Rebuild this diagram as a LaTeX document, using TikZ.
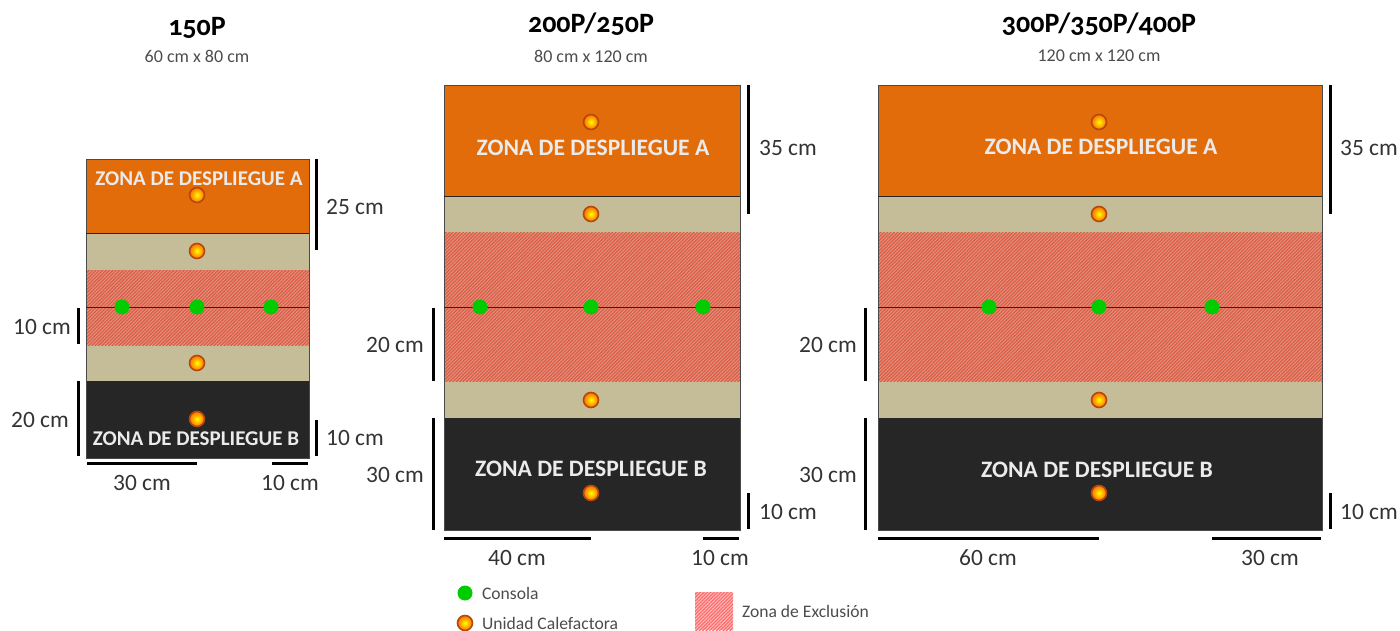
\documentclass[tikz,border=0pt]{standalone}
\usepackage{fontspec}
\setmainfont{Carlito}
\newfontfamily\titlefont[Numbers=OldStyle]{Carlito}
\usetikzlibrary{patterns.meta}
\definecolor{zoneorange}{HTML}{E36C0A}
\definecolor{zonetan}{HTML}{C4BD97}
\definecolor{zoneblack}{HTML}{262626}
\definecolor{hatchred}{HTML}{DE5A45}
\definecolor{hatchbase}{HTML}{E0947E}
\definecolor{hatchpink}{HTML}{FF6A6A}
\definecolor{consolegreen}{HTML}{00CC00}
\definecolor{edgegray}{HTML}{4A4A4A}
\definecolor{heaterring}{HTML}{B5470F}

\begin{document}
\begin{tikzpicture}[x=1pt,y=-1pt,
    dimbar/.style={line width=3pt,black},
    dimtext/.style={text=black!80,font=\fontsize{23.4}{26}\selectfont},
    sizetext/.style={text=black!70,font=\fontsize{18}{20}\selectfont},
    titletext/.style={font=\fontsize{28}{30}\selectfont\titlefont\bfseries},
    zonetext/.style={text=white!92!black,font=\fontsize{23.6}{26}\selectfont\bfseries},
    smallzone/.style={text=white!92!black,font=\fontsize{21}{24}\selectfont\bfseries},
    legendtext/.style={anchor=west,text=black!70,font=\fontsize{17.6}{20}\selectfont},
    console/.style={circle,fill=consolegreen,minimum size=15pt,inner sep=0pt},
    heater/.style={circle,draw=heaterring,line width=1.6pt,inner color=yellow,outer color=orange!85!red,minimum size=15pt,inner sep=0pt},
    hatched/.style={preaction={fill=hatchbase},pattern={Lines[angle=45,distance=2.4pt,line width=1.2pt]},pattern color=hatchred},
    hatchkey/.style={preaction={fill=hatchpink!45},pattern={Lines[angle=45,distance=2.4pt,line width=1.2pt]},pattern color=hatchpink}]
  \useasboundingbox (0,0) rectangle (1400,631);

  % small board
  \fill[zoneorange] (86,159) rectangle (309,233);
  \fill[zonetan] (86,233) rectangle (309,381);
  \fill[hatched] (86,270) rectangle (309,345);
  \fill[zoneblack] (86,381) rectangle (309,458);
  \draw[edgegray,thick] (86,159) rectangle (309,458);
  \draw[zoneblack,thick] (86,233) -- (309,233);
  \draw[zoneblack,thick] (86,307) -- (309,307);

  % medium board
  \fill[zoneorange] (444,85) rectangle (740,196);
  \fill[zonetan] (444,196) rectangle (740,418);
  \fill[hatched] (444,233) rectangle (740,381);
  \fill[zoneblack] (444,418) rectangle (740,530);
  \draw[edgegray,thick] (444,85) rectangle (740,530);
  \draw[zoneblack,thick] (444,196) -- (740,196);
  \draw[zoneblack,thick] (444,307) -- (740,307);

  % large board
  \fill[zoneorange] (878,85) rectangle (1322,196);
  \fill[zonetan] (878,196) rectangle (1322,418);
  \fill[hatched] (878,233) rectangle (1322,381);
  \fill[zoneblack] (878,418) rectangle (1322,530);
  \draw[edgegray,thick] (878,85) rectangle (1322,530);
  \draw[zoneblack,thick] (878,196) -- (1322,196);
  \draw[zoneblack,thick] (878,307) -- (1322,307);

  % titles
  \node[titletext] (t1) at (197,28) {150P};
  \node[sizetext] (s1) at (197,56) {60 cm x 80 cm};
  \node[titletext] (t2) at (591,24) {200P/250P};
  \node[sizetext] (s2) at (591,56) {80 cm x 120 cm};
  \node[titletext] (t3) at (1099,24) {300P/350P/400P};
  \node[sizetext] (s3) at (1099,56) {120 cm x 120 cm};

  % zone names
  \node[smallzone] (a1) at (199,179) {ZONA DE DESPLIEGUE A};
  \node[smallzone] (b1) at (196,439) {ZONA DE DESPLIEGUE B};
  \node[zonetext] (a2) at (593,148) {ZONA DE DESPLIEGUE A};
  \node[zonetext] (b2) at (591,469) {ZONA DE DESPLIEGUE B};
  \node[zonetext] (a3) at (1101,147) {ZONA DE DESPLIEGUE A};
  \node[zonetext] (b3) at (1097,470) {ZONA DE DESPLIEGUE B};

  % consoles and heaters
  \foreach \x/\n in {122/l,197/m,271/r}
    \node[console] (c1\n) at (\x,307) {};
  \foreach \x/\n in {480/l,591/m,703/r}
    \node[console] (c2\n) at (\x,307) {};
  \foreach \x/\n in {989/l,1099/m,1212/r}
    \node[console] (c3\n) at (\x,307) {};
  \foreach \y/\n in {195/a,251/b,363/c,419/d}
    \node[heater] (h1\n) at (197,\y) {};
  \foreach \y/\n in {122/a,214/b,400/c,493/d} {
    \node[heater] (h2\n) at (591,\y) {};
    \node[heater] (h3\n) at (1099,\y) {};
  }

  % measures, small board
  \draw[dimbar] (316,159) -- (316,250);
  \draw[dimbar] (78,308) -- (78,344);
  \draw[dimbar] (78,381) -- (78,456);
  \draw[dimbar] (316,420) -- (316,456);
  \draw[dimbar] (87,463) -- (197,463);
  \draw[dimbar] (272,463) -- (308,463);
  \node[dimtext] (d11) at (355,207) {25 cm};
  \node[dimtext] (d12) at (42,327) {10 cm};
  \node[dimtext] (d13) at (40,420) {20 cm};
  \node[dimtext] (d14) at (355,438) {10 cm};
  \node[dimtext] (d15) at (142,483) {30 cm};
  \node[dimtext] (d16) at (290,483) {10 cm};

  % measures, medium board
  \draw[dimbar] (748,85) -- (748,214);
  \draw[dimbar] (433,308) -- (433,381);
  \draw[dimbar] (433,418) -- (433,530);
  \draw[dimbar] (748,493) -- (748,529);
  \draw[dimbar] (444,538) -- (591,538);
  \draw[dimbar] (703,538) -- (739,538);
  \node[dimtext] (d21) at (788,148) {35 cm};
  \node[dimtext] (d22) at (395,345) {20 cm};
  \node[dimtext] (d23) at (395,475) {30 cm};
  \node[dimtext] (d24) at (788,512) {10 cm};
  \node[dimtext] (d25) at (517,558) {40 cm};
  \node[dimtext] (d26) at (720,558) {10 cm};

  % measures, large board
  \draw[dimbar] (1330,85) -- (1330,214);
  \draw[dimbar] (865,308) -- (865,381);
  \draw[dimbar] (865,418) -- (865,530);
  \draw[dimbar] (1330,493) -- (1330,529);
  \draw[dimbar] (878,538) -- (1099,538);
  \draw[dimbar] (1212,538) -- (1321,538);
  \node[dimtext] (d31) at (1369,148) {35 cm};
  \node[dimtext] (d32) at (828,345) {20 cm};
  \node[dimtext] (d33) at (828,475) {30 cm};
  \node[dimtext] (d34) at (1369,512) {10 cm};
  \node[dimtext] (d35) at (988,558) {60 cm};
  \node[dimtext] (d36) at (1270,558) {30 cm};

  % legend
  \node[console] (lc) at (465,593) {};
  \node[legendtext] (lct) at (478.5,593) {Consola};
  \node[heater] (lh) at (465,623) {};
  \node[legendtext] (lht) at (478.5,623) {Unidad Calefactora};
  \fill[hatchkey] (695,592) rectangle (733,630);
  \node[legendtext] (lzt) at (738.5,611) {Zona de Exclusión};
\end{tikzpicture}
\end{document}
